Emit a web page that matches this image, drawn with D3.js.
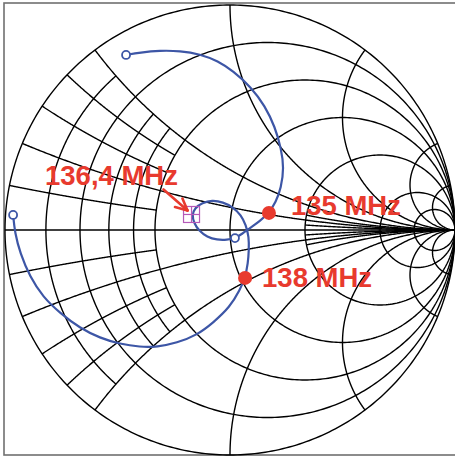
<!DOCTYPE html>
<html><head><meta charset="utf-8">
<script src="https://cdn.jsdelivr.net/npm/d3@7"></script>
<style>body{margin:0;background:#fff}svg{display:block}</style>
</head><body><svg id="c" width="455" height="457"></svg>
<script>
// ---- Smith chart grid values ----
const rFull = [0, 0.2, 0.5, 1, 2, 5, 10];     // full constant-resistance circles
const rFine = [0.1, 0.3, 0.4];                // drawn only for |x| <= 0.5
const xFull = [0.2, 0.5, 1, 2, 5, 10];        // full reactance arcs (both signs)
const xFineLeft = [0.1, 0.3, 0.4];            // drawn for r <= 0.5
const xFineRight = [0.1, 0.3];                // drawn for r >= 2

// ---- Measured trajectory, reflection coefficient (re, im) ----
const traceRe = [-0.462,-0.400,-0.311,-0.222,-0.133,-0.053,0.013,0.093,0.156,0.200,0.227,0.240,0.227,0.204,0.173,0.133,0.089,0.053,0.022,-0.013,-0.058,-0.102,-0.138,-0.160,-0.169,-0.156,-0.124,-0.080,-0.031,0.013,0.049,0.071,0.084,0.084,0.080,0.067,0.044,0.000,-0.076,-0.147,-0.236,-0.324,-0.400,-0.489,-0.578,-0.667,-0.756,-0.831,-0.889,-0.933,-0.956,-0.964];
const traceIm = [0.778,0.789,0.798,0.796,0.782,0.751,0.707,0.636,0.551,0.458,0.364,0.276,0.187,0.124,0.076,0.040,0.009,-0.018,-0.036,-0.044,-0.044,-0.031,-0.004,0.031,0.067,0.098,0.120,0.133,0.124,0.102,0.067,0.022,-0.031,-0.089,-0.147,-0.213,-0.267,-0.342,-0.413,-0.467,-0.502,-0.520,-0.520,-0.507,-0.480,-0.436,-0.369,-0.298,-0.209,-0.102,-0.013,0.067];
const openMarkerIdx = [0, 18, 51];
const dotLabels = ["135 MHz", "138 MHz"];
const dotIdx = [14, 35];
const refLabel = "136,4 MHz";
const refRe = -0.171, refIm = 0.069;

const svg = d3.select("#c");
const sx = d3.scaleLinear().domain([-1, 1]).range([5, 455]);
const sy = d3.scaleLinear().domain([-1, 1]).range([455, 5]);
const RED = "#e83a2e", BLUE = "#3d56a6";

// frame
svg.append("rect").attr("x", 4).attr("y", 3).attr("width", 460).attr("height", 452)
  .attr("fill", "none").attr("stroke", "#707070").attr("stroke-width", 1.6);

function gamma(r, x) {
  if (!isFinite(r) || !isFinite(x)) return [1, 0];
  const d = (r + 1) * (r + 1) + x * x;
  return [(r * r + x * x - 1) / d, 2 * x / d];
}
const line = d3.line().x(p => sx(p[0])).y(p => sy(p[1]));
const N = 400;
function rCircle(r, xmin, xmax) {
  const t0 = Math.atan(xmin), t1 = Math.atan(xmax);
  return d3.range(N + 1).map(i => {
    const t = t0 + (t1 - t0) * i / N;
    const x = Math.abs(t) >= Math.PI / 2 - 1e-9 ? Math.sign(t) * Infinity : Math.tan(t);
    return gamma(r, x);
  });
}
function xArc(x, rmin, rmax) {
  const t0 = Math.atan(rmin), t1 = Math.atan(rmax);
  return d3.range(N + 1).map(i => {
    const t = t0 + (t1 - t0) * i / N;
    const r = t >= Math.PI / 2 - 1e-9 ? Infinity : Math.tan(t);
    return gamma(r, x);
  });
}
const grid = svg.append("g").attr("fill", "none").attr("stroke", "#000").attr("stroke-width", 1.4);
rFull.forEach(r => grid.append("path").attr("d", line(rCircle(r, -Infinity, Infinity))));
rFine.forEach(r => grid.append("path").attr("d", line(rCircle(r, -0.5, 0.5))));
xFull.forEach(x => [x, -x].forEach(v => grid.append("path").attr("d", line(xArc(v, 0, Infinity)))));
xFineLeft.forEach(x => [x, -x].forEach(v => grid.append("path").attr("d", line(xArc(v, 0, 0.5)))));
xFineRight.forEach(x => [x, -x].forEach(v => grid.append("path").attr("d", line(xArc(v, 2, Infinity)))));
grid.append("line").attr("x1", sx(-1)).attr("x2", sx(1)).attr("y1", sy(0)).attr("y2", sy(0));

// trajectory
const pts = traceRe.map((re, i) => [re, traceIm[i]]);
svg.append("path").attr("d", d3.line().x(p => sx(p[0])).y(p => sy(p[1])).curve(d3.curveBasis)(pts))
  .attr("fill", "none").attr("stroke", BLUE).attr("stroke-width", 2.2);
openMarkerIdx.forEach(i => svg.append("circle").attr("cx", sx(pts[i][0])).attr("cy", sy(pts[i][1]))
  .attr("r", 4).attr("fill", "#fff").attr("stroke", BLUE).attr("stroke-width", 1.8));

// reference marker (square with cross)
const mx = sx(refRe), my = sy(refIm), h = 8;
const sq = svg.append("g").attr("fill", "none").attr("stroke", "#b55ab8").attr("stroke-width", 1.2);
sq.append("rect").attr("x", mx - h).attr("y", my - h).attr("width", 2 * h).attr("height", 2 * h);
sq.append("line").attr("x1", mx).attr("x2", mx).attr("y1", my - h).attr("y2", my + h);
sq.append("line").attr("x1", mx - h).attr("x2", mx + h).attr("y1", my).attr("y2", my);

// arrow
const tip = [mx - 4, my - 4], tail = [mx - 28, my - 25];
const ang = Math.atan2(tip[1] - tail[1], tip[0] - tail[0]);
const ar = svg.append("g").attr("stroke", RED).attr("stroke-width", 2.6).attr("fill", "none").attr("stroke-linecap", "round");
ar.append("line").attr("x1", tail[0]).attr("y1", tail[1]).attr("x2", tip[0]).attr("y2", tip[1]);
[-0.45, 0.45].forEach(a => ar.append("line").attr("x1", tip[0]).attr("y1", tip[1])
  .attr("x2", tip[0] - 13 * Math.cos(ang + a)).attr("y2", tip[1] - 13 * Math.sin(ang + a)));

// frequency dots + labels
const font = "'Liberation Sans', Arial, sans-serif";
const labelOff = [[22, 2], [17, 9]];
dotIdx.forEach((i, k) => {
  const cx = sx(pts[i][0]), cy = sy(pts[i][1]);
  svg.append("circle").attr("cx", cx).attr("cy", cy).attr("r", 7).attr("fill", RED);
  svg.append("text").attr("x", cx + labelOff[k][0]).attr("y", cy + labelOff[k][1])
    .attr("font-family", font).attr("font-weight", "bold").attr("font-size", 27.5)
    .attr("fill", RED).text(dotLabels[k]);
});
svg.append("text").attr("x", 45).attr("y", 185)
  .attr("font-family", font).attr("font-weight", "bold").attr("font-size", 27.5)
  .attr("fill", RED).text(refLabel);
</script></body></html>
